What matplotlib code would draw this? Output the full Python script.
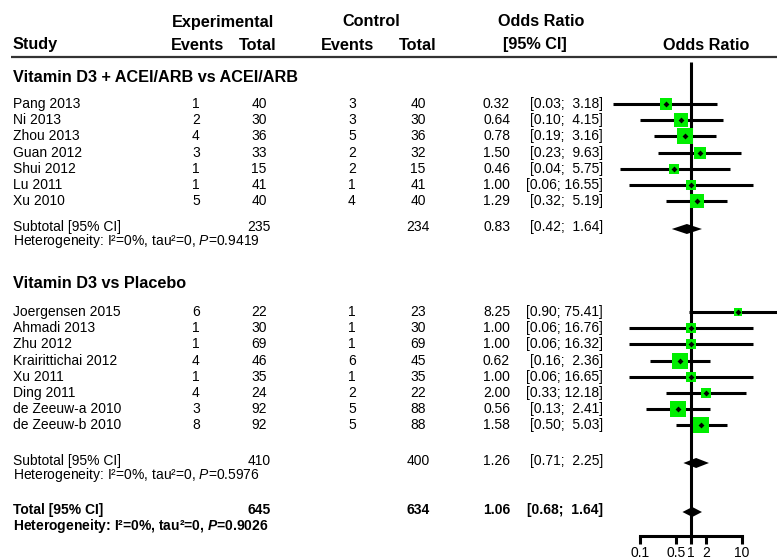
import numpy as np
import matplotlib
matplotlib.use("Agg")
import matplotlib.pyplot as plt

plt.rcParams['font.family'] = ['Liberation Sans', 'DejaVu Sans']
plt.rcParams['mathtext.fontset'] = 'custom'
plt.rcParams['mathtext.rm'] = 'Liberation Sans'
plt.rcParams['mathtext.it'] = 'Liberation Sans:italic'
plt.rcParams['mathtext.bf'] = 'Liberation Sans:bold'
plt.rcParams['mathtext.bfit'] = 'Liberation Sans:italic:bold'

# ---- data ----
group_titles = ["Vitamin D3 + ACEI/ARB vs ACEI/ARB", "Vitamin D3 vs Placebo"]

study1 = ["Pang 2013", "Ni 2013", "Zhou 2013", "Guan 2012", "Shui 2012", "Lu 2011", "Xu 2010"]
ev_e1 = [1, 2, 4, 3, 1, 1, 5]
n_e1 = [40, 30, 36, 33, 15, 41, 40]
ev_c1 = [3, 3, 5, 2, 2, 1, 4]
n_c1 = [40, 30, 36, 32, 15, 41, 40]
or1 = [0.32, 0.64, 0.78, 1.50, 0.46, 1.00, 1.29]
lo1 = [0.03, 0.10, 0.19, 0.23, 0.04, 0.06, 0.32]
hi1 = [3.18, 4.15, 3.16, 9.63, 5.75, 16.55, 5.19]
w1 = [7.1, 7.5, 9.9, 6.3, 5.3, 3.6, 7.5]   # weights (%), estimated

study2 = ["Joergensen 2015", "Ahmadi 2013", "Zhu 2012", "Krairittichai 2012",
          "Xu 2011", "Ding 2011", "de Zeeuw-a 2010", "de Zeeuw-b 2010"]
ev_e2 = [6, 1, 1, 4, 1, 4, 3, 8]
n_e2 = [22, 30, 69, 46, 35, 24, 92, 92]
ev_c2 = [1, 1, 1, 6, 1, 2, 5, 5]
n_c2 = [23, 30, 69, 45, 35, 22, 88, 88]
or2 = [8.25, 1.00, 1.00, 0.62, 1.00, 2.00, 0.56, 1.58]
lo2 = [0.90, 0.06, 0.06, 0.16, 0.06, 0.33, 0.13, 0.50]
hi2 = [75.41, 16.76, 16.32, 2.36, 16.65, 12.18, 2.41, 5.03]
w2 = [2.8, 3.6, 3.6, 12.7, 3.6, 5.3, 11.3, 9.9]

# subtotals: n_exp, n_ctrl, OR, lo, hi, heterogeneity p
sub_n_e = [235, 410]
sub_n_c = [234, 400]
sub_or = [0.83, 1.26]
sub_lo = [0.42, 0.71]
sub_hi = [1.64, 2.25]
sub_p = ["0.9419", "0.5976"]

tot_n_e, tot_n_c = 645, 634
tot_or, tot_lo, tot_hi = 1.06, 0.68, 1.64
tot_p = "0.9026"

axis_ticks = [0.1, 0.5, 1, 2, 10]
axis_labels = ["0.1", "0.5", "1", "2", "10"]

# ---- layout (pixel coords, figure is 777 x 560) ----
W, H = 777, 560
fig = plt.figure(figsize=(W / 100, H / 100), dpi=100)
ax = fig.add_axes([0, 0, 1, 1])
ax.set_xlim(0, W)
ax.set_ylim(H, 0)
ax.axis('off')

# forest panel: log x axis, 1 at x=691, 51 px per decade
fx0 = 600
fa = fig.add_axes([fx0 / W, 0, (W - fx0) / W, 1])
fa.set_xscale('log')
fa.set_xlim(10 ** ((fx0 - 691) / 51), 10 ** ((W - 691) / 51))
fa.set_ylim(H, 0)
fa.patch.set_alpha(0)
for s in ['top', 'left', 'right']:
    fa.spines[s].set_visible(False)
fa.spines['bottom'].set_position(('data', 536))
fa.spines['bottom'].set_bounds(axis_ticks[0], axis_ticks[-1])
fa.spines['bottom'].set_linewidth(2.2)
fa.set_yticks([])
fa.set_xticks(axis_ticks)
fa.set_xticklabels(axis_labels)
fa.xaxis.set_minor_locator(matplotlib.ticker.NullLocator())
fa.tick_params(axis='x', length=6, width=2.2, labelsize=10, pad=1.5)

FS = 10
HFS = 11.7
x_study = 13
x_ee, x_ne, x_ec, x_nc = 196, 259, 352, 418
x_or, x_ci = 510, 603

# headers
hdr = dict(va='center', fontsize=HFS, fontweight='bold')
ax.text(223, 22, "Experimental", ha='center', **hdr)
ax.text(371, 22, "Control", ha='center', **hdr)
ax.text(541, 22, "Odds Ratio", ha='center', **hdr)
ax.text(x_study, 45, "Study", ha='left', **hdr)
ax.text(197, 45, "Events", ha='center', **hdr)
ax.text(258, 45, "Total", ha='center', **hdr)
ax.text(347, 45, "Events", ha='center', **hdr)
ax.text(418, 45, "Total", ha='center', **hdr)
ax.text(535, 45, "[95% CI]", ha='center', **hdr)
ax.text(706, 45, "Odds Ratio", ha='center', **hdr)
ax.plot([11, W], [57, 57], color='#333333', lw=1.6, solid_capstyle='butt')

# reference line at OR = 1
fa.plot([1, 1], [62, 536], color='black', lw=2.2, solid_capstyle='butt')


def ci_text(lo, hi):
    return "[%.2f; %5.2f]" % (lo, hi)


def study_rows(y0, names, ee, ne, ec, nc, orr, lo, hi, w):
    for i in range(len(names)):
        y = y0 + 16.2 * i
        ax.text(x_study, y, names[i], ha='left', va='center', fontsize=FS)
        ax.text(x_ee, y, str(ee[i]), ha='center', va='center', fontsize=FS)
        ax.text(x_ne, y, str(ne[i]), ha='center', va='center', fontsize=FS)
        ax.text(x_ec, y, str(ec[i]), ha='center', va='center', fontsize=FS)
        ax.text(x_nc, y, str(nc[i]), ha='center', va='center', fontsize=FS)
        ax.text(x_or, y, "%.2f" % orr[i], ha='right', va='center', fontsize=FS)
        ax.text(x_ci, y, ci_text(lo[i], hi[i]), ha='right', va='center', fontsize=FS)
        fa.plot([lo[i], hi[i]], [y, y], color='black', lw=2.2, solid_capstyle='butt', zorder=2)
        side = 4.77 * np.sqrt(w[i]) * 0.72
        fa.scatter([orr[i]], [y], s=side ** 2, marker='s', color='#00ee00', lw=0, zorder=3)
        fa.scatter([orr[i]], [y], s=9, marker='D', color='black', lw=0, zorder=4)


def summary_rows(y, label, n_e, n_c, orr, lo, hi, p, bold, gap):
    wt = 'bold' if bold else 'normal'
    ax.text(x_study, y, label, ha='left', va='center', fontsize=FS, fontweight=wt)
    ax.text(x_ne, y, str(n_e), ha='center', va='center', fontsize=FS, fontweight=wt)
    ax.text(x_nc, y, str(n_c), ha='center', va='center', fontsize=FS, fontweight=wt)
    ax.text(x_or, y, "%.2f" % orr, ha='right', va='center', fontsize=FS, fontweight=wt)
    ax.text(x_ci, y, ci_text(lo, hi), ha='right', va='center', fontsize=FS, fontweight=wt)
    pm = r"$\mathbfit{P}$" if bold else r"$\mathit{P}$"
    ax.text(x_study, y + gap, "Heterogeneity: I²=0%, tau²=0, " + pm + "=" + p,
            ha='left', va='center', fontsize=FS, fontweight=wt)
    fa.fill([lo, orr, hi, orr], [y + 2, y - 3, y + 2, y + 7], color='black', lw=0, zorder=3)


ax.text(x_study, 78, group_titles[0], ha='left', va='center', fontsize=HFS, fontweight='bold')
study_rows(104, study1, ev_e1, n_e1, ev_c1, n_c1, or1, lo1, hi1, w1)
summary_rows(227, "Subtotal [95% CI]", sub_n_e[0], sub_n_c[0], sub_or[0], sub_lo[0], sub_hi[0],
             sub_p[0], False, 14.5)

ax.text(x_study, 283, group_titles[1], ha='left', va='center', fontsize=HFS, fontweight='bold')
study_rows(312, study2, ev_e2, n_e2, ev_c2, n_c2, or2, lo2, hi2, w2)
summary_rows(461, "Subtotal [95% CI]", sub_n_e[1], sub_n_c[1], sub_or[1], sub_lo[1], sub_hi[1],
             sub_p[1], False, 14.5)

summary_rows(510, "Total [95% CI]", tot_n_e, tot_n_c, tot_or, tot_lo, tot_hi, tot_p, True, 16)

fig.savefig("out.png", dpi=100)
